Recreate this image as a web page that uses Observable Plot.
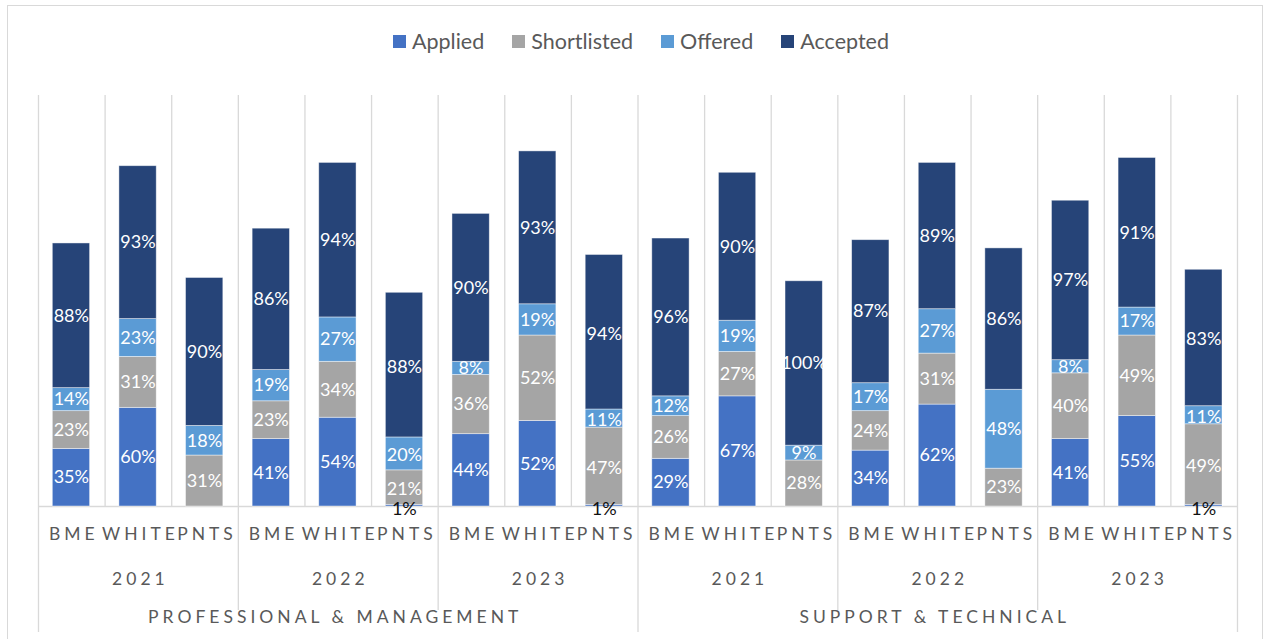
<!DOCTYPE html>
<html>
<head>
<meta charset="utf-8">
<script src="https://cdn.jsdelivr.net/npm/d3@7"></script>
<script src="https://cdn.jsdelivr.net/npm/@observablehq/plot@0.6"></script>
<style>
  html, body { margin: 0; padding: 0; background: #fff; }
  #chart { position: relative; width: 1266px; height: 639px; overflow: hidden; font-family: Lato, "Open Sans", sans-serif; }
  #frame { position: absolute; left: 7px; top: 5px; width: 1256px; height: 660px; border: 1.3px solid #d9d9d9; box-sizing: border-box; }
  #legend { position: absolute; left: 393px; top: 28px; display: flex; align-items: center; gap: 28px; color: #595959; font-size: 21.5px; }
  #legend .item { display: flex; align-items: center; gap: 6px; }
  #legend .sw { width: 13px; height: 13px; display: inline-block; }
  #plot { position: absolute; left: 0; top: 0; }
</style>
</head>
<body>
<div id="chart">
  <div id="frame"></div>
  <div id="plot"></div>
  <div id="legend"></div>
</div>
<script>
// Job families, years and applicant groups (one bar per group)
const families = ["PROFESSIONAL & MANAGEMENT", "SUPPORT & TECHNICAL"];
const years = ["2021", "2022", "2023"];
const groups = ["BME", "WHITE", "PNTS"];
const stages = ["Applied", "Shortlisted", "Offered", "Accepted"];
const stageColors = ["#4472C4", "#A5A5A5", "#5B9BD5", "#264478"];

// Percentages per bar, ordered family → year → group
const applied     = [35, 60, 0,  41, 54, 1,  44, 52, 1,  29, 67, 0,  34, 62, 0,  41, 55, 1];
const shortlisted = [23, 31, 31, 23, 34, 21, 36, 52, 47, 26, 27, 28, 24, 31, 23, 40, 49, 49];
const offered     = [14, 23, 18, 19, 27, 20, 8,  19, 11, 12, 19, 9,  17, 27, 48, 8,  17, 11];
const accepted    = [88, 93, 90, 86, 94, 88, 90, 93, 94, 96, 90, 100, 87, 89, 86, 97, 91, 83];

const series = [applied, shortlisted, offered, accepted];

// One key per bar
const bars = [];
families.forEach(f => years.forEach(y => groups.forEach(g => bars.push({family: f, year: y, group: g, key: `${f}|${y}|${g}`}))));
const keys = bars.map(b => b.key);

// Long table: bar × stage
const rows = [];
bars.forEach((b, i) => stages.forEach((s, j) => rows.push({...b, stage: s, value: series[j][i]})));

const W = 1266, H = 639;
const mL = 38, mR = 29, mT = 95, mB = 133;
const step = (W - mL - mR) / keys.length;
const grid = "#d9d9d9";
const ink = "#595959";

// Band boundaries: index 0..18
const boundaries = d3.range(keys.length + 1).map(i => ({
  key: keys[Math.min(i, keys.length - 1)],
  dx: i < keys.length ? -step / 2 : step / 2,
  level: i % 9 === 0 ? 2 : i % 3 === 0 ? 1 : 0
}));
const boundaryRule = (level, insetBottom) => boundaries.filter(b => b.level === level).map(b =>
  Plot.ruleX([b], {x: "key", dx: b.dx, stroke: grid, strokeWidth: 1.3, insetBottom})
);

const axisText = {frameAnchor: "bottom", lineAnchor: "middle", dx: 2, fill: ink, fontSize: 17.5};

const plot = Plot.plot({
  width: W,
  height: H,
  marginLeft: mL,
  marginRight: mR,
  marginTop: mT,
  marginBottom: mB,
  style: {fontFamily: "Lato, 'Open Sans', sans-serif", background: "transparent"},
  x: {domain: keys, padding: 0, round: false, axis: null},
  y: {domain: [0, 250], axis: null},
  color: {domain: stages, range: stageColors},
  marks: [
    ...boundaryRule(0, 0),
    ...boundaryRule(1, -104),
    ...boundaryRule(2, -126),
    Plot.ruleY([0], {stroke: grid, strokeWidth: 1.3}),
    Plot.barY(rows, {x: "key", y: "value", fill: "stage", insetLeft: 14.3, insetRight: 15, stroke: "#ffffff", strokeOpacity: 0.55, strokeWidth: 0.8}),
    Plot.text(rows.filter(r => r.value > 1), Plot.stackY({
      x: "key", y: "value", z: "stage", text: d => `${d.value}%`, fill: "white", fontSize: 18, dx: -0.5
    })),
    // 1% segments are too thin to hold a label: print it just below in black
    Plot.text(rows.filter(r => r.value <= 1), Plot.stackY({
      x: "key", y: "value", z: "stage", text: d => d.value === 1 ? "1%" : "", fill: "#111", fontSize: 18, dy: 4, dx: -0.5
    })),
    // Group names under each bar
    Plot.text(bars, {...axisText, x: "key", text: "group", dy: 28}),
    // Years, centred under the middle bar
    Plot.text(bars.filter(b => b.group === "WHITE"), {...axisText, x: "key", text: "year", dy: 73}),
    // Job families, centred under the middle year
    Plot.text(bars.filter(b => b.group === "WHITE" && b.year === "2022"), {...axisText, x: "key", text: "family", dy: 111, dx: -3})
  ]
});

// Spaced-out lettering for the category axis
const spaced = new Set([...groups, ...years, ...families]);
d3.select(plot).selectAll("text").filter(function() { return spaced.has(this.textContent); })
  .attr("letter-spacing", "4px");

document.getElementById("plot").appendChild(plot);

// Legend
const legend = d3.select("#legend");
stages.forEach((s, i) => {
  const item = legend.append("div").attr("class", "item");
  item.append("span").attr("class", "sw").style("background", stageColors[i]);
  item.append("span").text(s);
});
</script>
</body>
</html>
